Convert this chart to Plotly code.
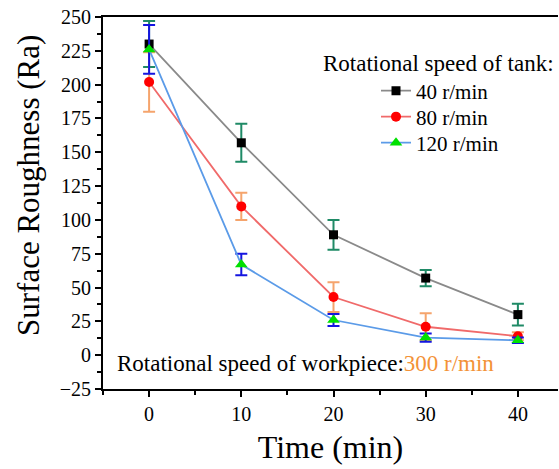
import plotly.graph_objects as go

time = [0, 10, 20, 30, 40]
ra_40 = [230, 157, 89, 57, 30]
err_40 = [17, 14, 11, 6, 8]
ra_80 = [202, 110, 43, 21, 14]
err_80 = [22, 10, 11, 10, 3]
ra_120 = [226, 67, 26, 13, 11]
err_120 = [18, 8, 4.5, 3, 2]

series_names = ["40 r/min", "80 r/min", "120 r/min"]
x_ticks = [0, 10, 20, 30, 40]
y_ticks = [-25, 0, 25, 50, 75, 100, 125, 150, 175, 200, 225, 250]

FONT = "Liberation Serif"
PLOT_TOP, PLOT_H, PLOT_L, PLOT_W = 17, 372, 103, 455

def py(pix):
    return 1 - (pix - PLOT_TOP) / PLOT_H

def px(pix):
    return (pix - PLOT_L) / PLOT_W

fig = go.Figure()

def add(y, err, name, line_color, marker_color, symbol, msize, err_color, legend):
    fig.add_trace(go.Scatter(
        x=time, y=y, name=name, mode="lines+markers", legend=legend,
        line=dict(color=line_color, width=1.8),
        marker=dict(color=marker_color, symbol=symbol, size=msize),
        error_y=dict(type="data", array=err, visible=True, color=err_color,
                     thickness=2, width=6),
    ))

add(ra_40, err_40, series_names[0], "#8a8a8a", "#000000", "square", 9, "#1f8a66", "legend")
add(ra_80, err_80, series_names[1], "#f06a6a", "#ff0000", "circle", 10, "#f5a46c", "legend2")
add(ra_120, err_120, series_names[2], "#5b9be8", "#00e000", "triangle-up", 11, "#1414e0", "legend3")

def leg(ypix):
    return dict(x=px(376), y=py(ypix), xanchor="left", yanchor="middle",
                font=dict(family=FONT, size=21, color="black"),
                bgcolor="rgba(0,0,0,0)", borderwidth=0)

fig.update_layout(
    width=559, height=469,
    margin=dict(l=103, r=1, t=17, b=80),
    paper_bgcolor="white", plot_bgcolor="white",
    font=dict(family=FONT, color="black", size=20),
    showlegend=True,
    legend=leg(91), legend2=leg(117), legend3=leg(143),
    xaxis=dict(
        range=[-5, 44.35], tickvals=x_ticks, ticks="outside", ticklen=6,
        tickwidth=1.5, tickcolor="black",
        showline=True, linecolor="black", linewidth=2, mirror=True,
        showgrid=False, zeroline=False,
        tickfont=dict(family=FONT, size=20, color="black"),
        minor=dict(dtick=5, tick0=0, ticks="outside", ticklen=4, tickwidth=1.5, tickcolor="black"),
        title=dict(text="Time (min)", font=dict(family=FONT, size=32, color="black"), standoff=12),
    ),
    yaxis=dict(
        range=[-25, 250], tickvals=y_ticks, ticks="outside", ticklen=6,
        tickwidth=1.5, tickcolor="black",
        showline=True, linecolor="black", linewidth=2, mirror=False,
        showgrid=False, zeroline=False,
        tickfont=dict(family=FONT, size=20, color="black"),
        minor=dict(dtick=12.5, tick0=0, ticks="outside", ticklen=4, tickwidth=1.5, tickcolor="black"),
    ),
)

fig.add_annotation(
    xref="paper", yref="paper", x=px(28), y=py(186),
    xanchor="center", yanchor="middle", showarrow=False, textangle=-90,
    text="Surface Roughness (Ra)", font=dict(family=FONT, size=31, color="black"),
)
fig.add_annotation(
    xref="paper", yref="paper", x=px(321), y=py(63),
    xanchor="left", yanchor="middle", showarrow=False,
    text="Rotational speed of tank:", font=dict(family=FONT, size=23, color="black"),
)
fig.add_annotation(
    xref="paper", yref="paper", x=px(115), y=py(363),
    xanchor="left", yanchor="middle", showarrow=False,
    text="Rotational speed of workpiece:<span style='color:#f39237'>300 r/min</span>",
    font=dict(family=FONT, size=23, color="black"),
)

fig.write_html("out.html")
